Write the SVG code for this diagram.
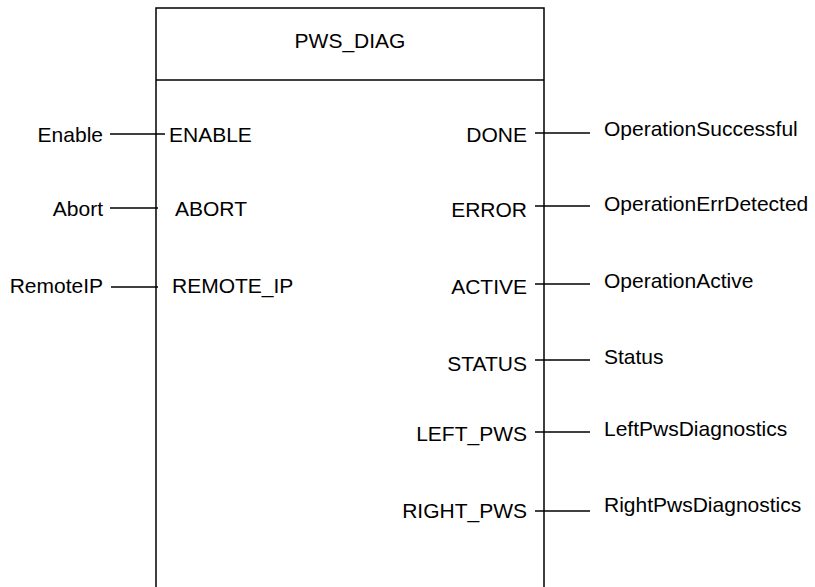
<svg xmlns="http://www.w3.org/2000/svg" width="815" height="587" viewBox="0 0 815 587">
<style>
text{font-family:"Liberation Sans",Arial,sans-serif;font-size:21px;fill:#000}
.e{text-anchor:end}
.ln{stroke:#000;stroke-width:1.5;fill:none}
</style>
<rect width="815" height="587" fill="#fff"/>
<g id="block">
<path class="ln" d="M156,600 V8 H544 V600" stroke-width="2"/>
<line class="ln" x1="156" y1="80" x2="544" y2="80"/>
<text x="350" y="48" text-anchor="middle">PWS_DIAG</text>
<text x="169" y="141.5">ENABLE</text>
<text x="175" y="215.5">ABORT</text>
<text x="172" y="292.5">REMOTE_IP</text>
<text class="e" x="527" y="141.5">DONE</text>
<text class="e" x="527" y="216.5">ERROR</text>
<text class="e" x="527" y="293.5">ACTIVE</text>
<text class="e" x="527" y="370.5">STATUS</text>
<text class="e" x="527" y="440.5">LEFT_PWS</text>
<text class="e" x="527" y="518">RIGHT_PWS</text>
</g>
<g id="connectors">
<line class="ln" x1="110" y1="134" x2="165" y2="134"/>
<line class="ln" x1="110" y1="208" x2="158" y2="208"/>
<line class="ln" x1="111" y1="287" x2="158" y2="287"/>
<line class="ln" x1="535" y1="133" x2="590" y2="133"/>
<line class="ln" x1="535" y1="206" x2="590" y2="206"/>
<line class="ln" x1="535" y1="284" x2="590" y2="284"/>
<line class="ln" x1="535" y1="360" x2="590" y2="360"/>
<line class="ln" x1="535" y1="432" x2="590" y2="432"/>
<line class="ln" x1="535" y1="511" x2="590" y2="511"/>
</g>
<g id="inputs">
<text class="e" x="103" y="141.5">Enable</text>
<text class="e" x="103" y="215.5">Abort</text>
<text class="e" x="103" y="292.5">RemoteIP</text>
</g>
<g id="outputs">
<text x="604" y="136">OperationSuccessful</text>
<text x="604" y="211">OperationErrDetected</text>
<text x="604" y="288">OperationActive</text>
<text x="604" y="364">Status</text>
<text x="604" y="436">LeftPwsDiagnostics</text>
<text x="604" y="511.5">RightPwsDiagnostics</text>
</g>
</svg>
